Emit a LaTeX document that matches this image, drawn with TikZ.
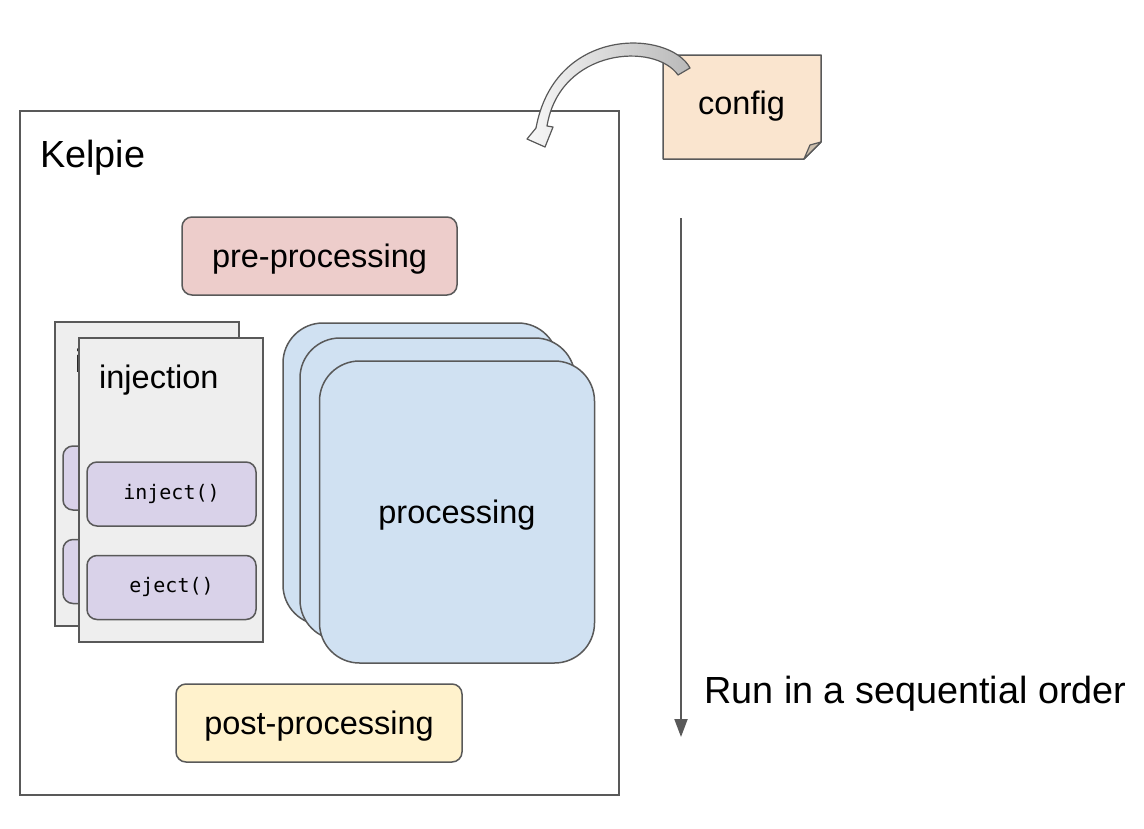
\documentclass[tikz,border=0pt]{standalone}
\usepackage{fontspec}
\setmainfont{Liberation Sans}
\setmonofont{DejaVu Sans Mono}
\usetikzlibrary{arrows.meta}
\definecolor{linegray}{HTML}{595959}
\definecolor{prefill}{HTML}{EDCDCB}
\definecolor{postfill}{HTML}{FFF2CC}
\definecolor{procfill}{HTML}{D0E1F2}
\definecolor{injfill}{HTML}{EEEEEE}
\definecolor{funcfill}{HTML}{D9D2E9}
\definecolor{cfgfill}{HTML}{FAE5CF}
\definecolor{foldfill}{HTML}{CDBFAD}
\tikzset{
  box/.style={draw=linegray, line width=1.5pt, inner sep=0pt,
    font=\fontsize{32.5}{39}\selectfont, text height=23pt, text depth=0pt},
  stagebox/.style={box, rounded corners=10pt, minimum width=#1, minimum height=78},
  injbox/.style={box, fill=injfill, minimum width=184, minimum height=304},
  funcbox/.style={box, fill=funcfill, rounded corners=10pt, minimum width=169,
    minimum height=64, font=\ttfamily\fontsize{20}{24}\selectfont,
    text height=14pt, text depth=4pt},
  procbox/.style={box, fill=procfill, rounded corners=40pt, minimum width=275,
    minimum height=302},
  bigtext/.style={inner sep=0pt, font=\fontsize{37.8}{45}\selectfont},
  midtext/.style={inner sep=0pt, font=\fontsize{32.5}{39}\selectfont},
}
\begin{document}
\begin{tikzpicture}[x=1pt, y=-1pt]
\useasboundingbox (0,0) rectangle (1144,828);
\fill[white] (0,0) rectangle (1144,828);

% Kelpie frame
\node[box, minimum width=599, minimum height=684] (kelpie) at (319.5,453) {};
\node[bigtext, anchor=base west] (kelpielbl) at (40,167) {Kelpie};

% pre-processing
\node[stagebox=275, fill=prefill] (pre) at (319.5,256) {pre-processing};

% back injection (mostly hidden behind the front one)
\node[injbox] (injB) at (147,474) {};
\node[midtext, anchor=base west] (injBlbl) at (75,372) {i};
\node[funcbox] (injectB) at (147.5,478) {};
\node[funcbox] (ejectB) at (147.5,571.5) {};

% front injection
\node[injbox] (injF) at (171,490) {};
\node[midtext, anchor=base west] (injFlbl) at (99,388) {injection};
\node[funcbox] (injectF) at (171.5,494) {inject()};
\node[funcbox] (ejectF) at (171.5,587.5) {eject()};

% processing stack
\node[procbox] (procA) at (420.5,474) {};
\node[procbox] (procB) at (437.5,489) {};
\node[procbox] (procC) at (457,512) {processing};

% post-processing
\node[stagebox=286, fill=postfill] (post) at (319,723) {post-processing};

% config note
\coordinate (cfgNW) at (663,55);
\coordinate (cfgNE) at (821,55);
\coordinate (cfgF1) at (821,142);
\coordinate (cfgF2) at (804,159);
\coordinate (cfgFi) at (810,145);
\coordinate (cfgSW) at (663,159);
\filldraw[fill=cfgfill, draw=linegray, line width=1.5pt, line join=round]
  (cfgNW) -- (cfgNE) -- (cfgF1) -- (cfgF2) -- (cfgSW) -- cycle;
\filldraw[fill=foldfill, draw=linegray, line width=1.2pt, line join=round]
  (cfgF2) -- (cfgFi) -- (cfgF1) -- cycle;
\node[midtext, anchor=base] (config) at (741.5,114) {config};

% curved block arrow from config to Kelpie
\shade[left color=gray!6, right color=gray!55, draw=linegray, line width=1.2pt, line join=round]
  (690,68) .. controls (670,30) and (555,25) .. (536,128)
  -- (527,139) -- (545,147) -- (553,127) -- (547,126)
  .. controls (560,48) and (655,42) .. (678,75) -- cycle;

% sequential order arrow
\coordinate (seqTop) at (681,218);
\coordinate (seqBot) at (681,737);
\draw[draw=linegray, line width=2pt, -{Triangle[length=18pt, width=13pt]}, color=linegray]
  (seqTop) -- (seqBot);
\node[bigtext, anchor=base west] (run) at (704,703) {Run in a sequential order};
\end{tikzpicture}
\end{document}
